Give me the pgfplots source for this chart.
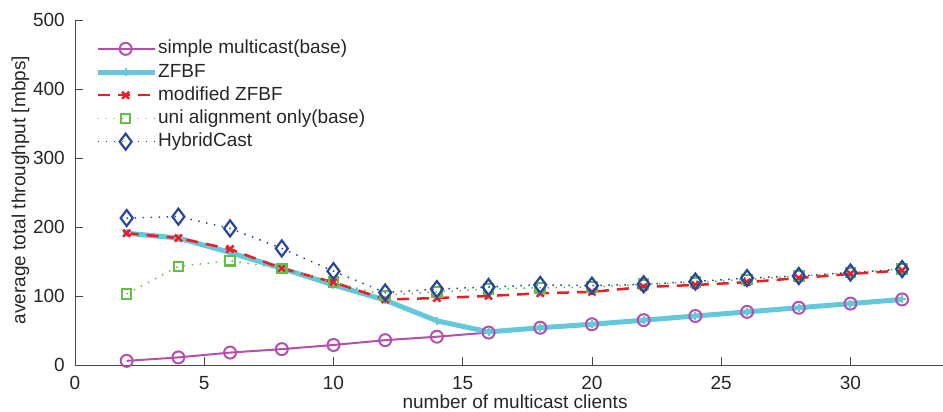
\documentclass[border=0pt]{standalone}
\usepackage{pgfplots}
\pgfplotsset{compat=1.18}
\usepackage{fontspec}
\setmainfont{Liberation Sans}
\definecolor{cMag}{RGB}{180,80,170}
\definecolor{cCyan}{RGB}{100,200,220}
\definecolor{cRed}{RGB}{235,30,40}
\definecolor{cGreen}{RGB}{100,190,70}
\definecolor{cBlue}{RGB}{40,70,160}
\definecolor{cAxis}{RGB}{70,70,70}
\begin{document}
\fontsize{19}{22}\selectfont
\begin{tikzpicture}
\path[use as bounding box] (-75pt,-47pt) rectangle (868pt,365pt);
\begin{axis}[
  scale only axis,
  width=868pt, height=345pt,
  xmin=0, xmax=33.58, ymin=0, ymax=500,
  axis lines=left,
  axis line style={-, cAxis, line width=0.8pt},
  tick style={cAxis, line width=0.8pt},
  tick align=inside,
  major tick length=8pt,
  xtick={0,5,...,30},
  ytick={0,100,...,500},
  /pgf/number format/assume math mode=true,
  tick label style={font=\fontsize{19}{22}\selectfont, text=black!85},
  yticklabel style={inner sep=0pt, xshift=-10pt},
  xticklabel style={inner sep=0pt, yshift=-11pt},
  xlabel={number of multicast clients},
  ylabel={average total throughput [mbps]},
  label style={font=\fontsize{19}{22}\selectfont, text=black!85},
  xlabel style={at={(axis description cs:0.507,-0.107)}, anchor=center},
  ylabel style={at={(axis description cs:-0.0628,0.507)}, anchor=center},
  legend style={draw=none, fill=none, inner sep=0pt,
    at={(axis description cs:0.023,0.946)}, anchor=north west,
    font=\fontsize{19}{22}\selectfont, text=black!85,
    nodes={inner sep=1pt, text height=14pt, text depth=4pt},
    row sep=3.2pt},
  legend cell align=left,
  legend image code/.code={
    \draw[mark repeat=2,mark phase=2] plot coordinates {(0pt,0pt) (28pt,0pt) (57pt,0pt)};
  },
]
\addplot[cMag, line width=2pt, mark=o, mark size=6pt, mark options={solid, line width=2pt}]
coordinates {(2,6) (4,11) (6,18) (8,23) (10,29) (12,36) (14,41) (16,47) (18,54) (20,59) (22,65) (24,71) (26,77) (28,83) (30,89) (32,95)};
\addlegendentry{simple multicast(base)}
\addplot[cCyan, line width=5pt, mark=+, mark size=4pt, mark options={solid, line width=2pt}]
coordinates {(2,191) (4,184) (6,163) (8,140) (10,116) (12,94) (14,64) (16,48) (18,54) (20,59) (22,65) (24,71) (26,77) (28,83) (30,89) (32,95)};
\addlegendentry{ZFBF}
\addplot[cRed, line width=2.5pt, dash pattern=on 12pt off 8pt, mark=x, mark size=5pt, mark options={solid, line width=2.5pt}]
coordinates {(2,191) (4,184) (6,168) (8,140) (10,120) (12,95) (14,97) (16,100) (18,104) (20,106) (22,113) (24,116) (26,120) (28,126) (30,132) (32,137)};
\addlegendentry{modified ZFBF}
\addplot[cGreen, line width=1.5pt, dash pattern=on 1.5pt off 6.5pt, mark=square, mark size=4.7pt, mark options={solid, line width=2.2pt}]
coordinates {(2,103) (4,143) (6,151) (8,140) (10,120) (12,101) (14,106) (16,110) (18,112) (20,113) (22,117) (24,120) (26,124) (28,129) (30,134) (32,139)};
\addlegendentry{uni alignment only(base)}
\addplot[cBlue, line width=1.5pt, dash pattern=on 1.5pt off 6.5pt, mark=diamond, mark size=8pt, mark options={solid, line width=2.2pt}]
coordinates {(2,213) (4,215) (6,198) (8,169) (10,136) (12,105) (14,110) (16,113) (18,116) (20,115) (22,117) (24,121) (26,126) (28,129) (30,134) (32,139)};
\addlegendentry{HybridCast}
\end{axis}
\end{tikzpicture}
\end{document}
